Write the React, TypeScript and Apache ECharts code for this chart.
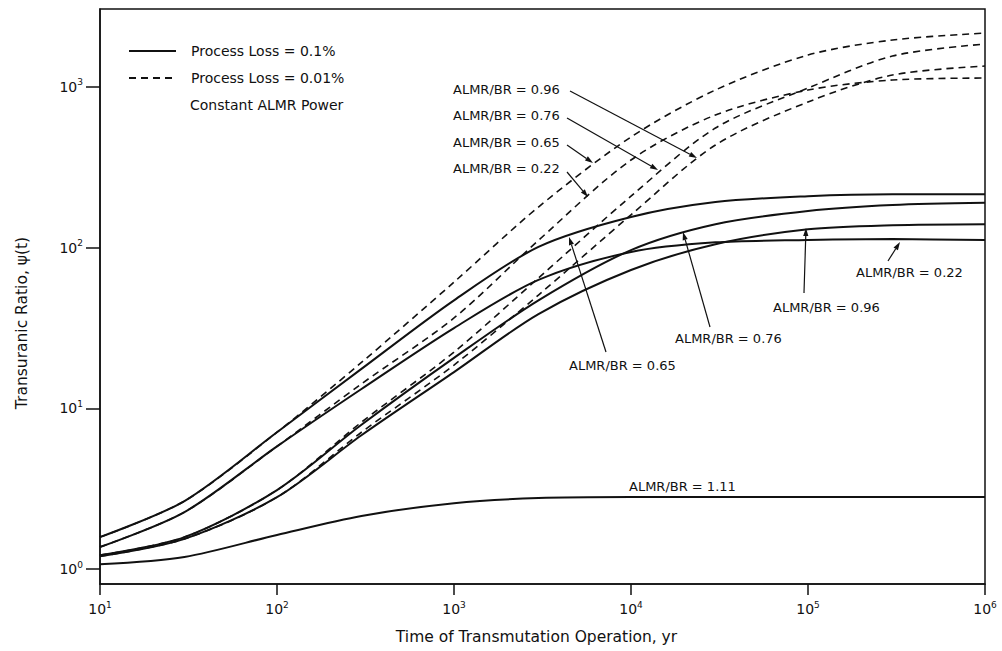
import React, { useEffect, useRef } from 'react';
import * as echarts from 'echarts';

// Time of transmutation operation, yr
const years = [10, 30, 100, 300, 1000, 3000, 10000, 30000, 100000, 300000, 1000000];

// Process Loss = 0.1% (solid curves)
const solid065 = [1.58, 2.65, 7.1, 17.6, 47, 101, 155, 192, 209, 215, 215];
const solid022 = [1.37, 2.26, 5.8, 13.2, 31.6, 63, 94, 108, 111.5, 113, 111.5];
const solid076 = [1.22, 1.58, 3.1, 7.9, 20.6, 47, 96.6, 140, 169, 184, 190];
const solid096 = [1.2, 1.54, 2.8, 6.8, 16.8, 38.6, 72.6, 105, 130, 138, 140];
const solid111 = [1.07, 1.19, 1.63, 2.14, 2.57, 2.77, 2.81, 2.81, 2.81, 2.81, 2.81];

// Process Loss = 0.01% (dashed curves)
const dashed065 = [1.58, 2.65, 7.1, 19.3, 61, 179, 488, 957, 1579, 1959, 2163];
const dashed022 = [1.37, 2.26, 5.8, 14.2, 36.5, 111, 351, 669, 957, 1104, 1136];
const dashed076 = [1.22, 1.58, 3.1, 8.2, 22.4, 64.7, 209, 555, 984, 1557, 1849];
const dashed096 = [1.2, 1.54, 2.8, 7.1, 18.6, 50.7, 160, 435, 806, 1186, 1349];

const xTicks = [10, 100, 1000, 10000, 100000, 1000000];
const yTicks = [1, 10, 100, 1000];

const SOLID = 'Process Loss = 0.1%';
const DASHED = 'Process Loss = 0.01%';
const FONT = '"DejaVu Sans", "Liberation Sans", Arial, sans-serif';
const INK = '#111';

function lineSeries(id: string, name: string, values: number[], dashed: boolean) {
  return {
    type: 'line',
    id,
    name,
    data: years.map((t, i) => [t, values[i]]),
    symbol: 'none',
    showSymbol: false,
    smooth: 0.3,
    lineStyle: { color: INK, width: dashed ? 1.6 : 2, type: dashed ? [7, 5] : 'solid' },
    itemStyle: { color: INK },
    emphasis: { disabled: true },
  };
}

function arrow(x1: number, y1: number, x2: number, y2: number) {
  const dx = x2 - x1;
  const dy = y2 - y1;
  const L = Math.hypot(dx, dy);
  const ux = dx / L;
  const uy = dy / L;
  const hl = 8;
  const hw = 2.6;
  const bx = x2 - ux * hl;
  const by = y2 - uy * hl;
  return [
    { type: 'line', shape: { x1, y1, x2: bx, y2: by }, style: { stroke: INK, lineWidth: 1.2 }, silent: true },
    {
      type: 'polygon',
      shape: { points: [[x2, y2], [bx - uy * hw, by + ux * hw], [bx + uy * hw, by - ux * hw]] },
      style: { fill: INK },
      silent: true,
    },
  ];
}

function label(text: string, x: number, y: number, size = 13) {
  return {
    type: 'text',
    x,
    y,
    silent: true,
    style: { text, fontSize: size, fontFamily: FONT, fill: INK, align: 'left', verticalAlign: 'middle' },
  };
}

const supFormatter = (v: number) => `{b|10}{s|${Math.round(Math.log10(v))}}`;
const supRich = {
  b: { fontSize: 14, fontFamily: FONT, color: INK },
  s: { fontSize: 9, fontFamily: FONT, color: INK, padding: [0, 0, 9, 0] },
};

export default function App() {
  const ref = useRef<HTMLDivElement>(null);
  useEffect(() => {
    if (!ref.current) return;
    const chart = echarts.init(ref.current, null, { renderer: 'svg' });
    const option = {
      animation: false,
      backgroundColor: '#fff',
      textStyle: { fontFamily: FONT, color: INK },
      grid: {
        left: 100,
        right: 17,
        top: 9,
        bottom: 67,
        containLabel: false,
        outerBoundsMode: 'none',
        show: true,
        borderColor: INK,
        borderWidth: 1.5,
        backgroundColor: 'transparent',
      },
      legend: {
        orient: 'vertical',
        left: 128,
        top: 44,
        padding: 0,
        itemWidth: 47,
        itemHeight: 14,
        itemGap: 13,
        selectedMode: false,
        itemStyle: { opacity: 0 },
        data: [{ name: SOLID }, { name: DASHED }],
        textStyle: { fontSize: 14, fontFamily: FONT, color: INK, padding: [0, 0, 0, 10] },
      },
      xAxis: {
        type: 'log',
        logBase: 10,
        min: 10,
        max: 1000000,
        name: 'Time of Transmutation Operation, yr',
        nameLocation: 'middle',
        nameGap: 45,
        nameTextStyle: { fontSize: 15.5, fontFamily: FONT, color: INK, padding: [0, 12, 0, 0] },
        axisLine: { show: true, lineStyle: { color: INK, width: 1.5 } },
        axisTick: { show: true, customValues: xTicks, length: 11, lineStyle: { color: INK, width: 1.5 } },
        minorTick: { show: false },
        axisLabel: { customValues: xTicks, formatter: supFormatter, rich: supRich, margin: 16 },
        splitLine: { show: false },
      },
      yAxis: {
        type: 'log',
        logBase: 10,
        min: 0.807,
        max: 3055,
        axisLine: { show: true, lineStyle: { color: INK, width: 1.5 } },
        axisTick: { show: true, customValues: yTicks, length: 14, lineStyle: { color: INK, width: 1.5 } },
        minorTick: { show: false },
        axisLabel: { customValues: yTicks, formatter: supFormatter, rich: supRich, margin: 17 },
        splitLine: { show: false },
      },
      series: [
        lineSeries('s065', SOLID, solid065, false),
        lineSeries('s022', SOLID, solid022, false),
        lineSeries('s076', SOLID, solid076, false),
        lineSeries('s096', SOLID, solid096, false),
        lineSeries('s111', SOLID, solid111, false),
        lineSeries('d065', DASHED, dashed065, true),
        lineSeries('d022', DASHED, dashed022, true),
        lineSeries('d076', DASHED, dashed076, true),
        lineSeries('d096', DASHED, dashed096, true),
      ],
      graphic: [
        label('Constant ALMR Power', 190, 105, 14),
        {
          type: 'text',
          x: 22,
          y: 323,
          rotation: Math.PI / 2,
          silent: true,
          style: {
            text: 'Transuranic Ratio, ψ(t)',
            fontSize: 15.5,
            fontFamily: FONT,
            fill: INK,
            align: 'center',
            verticalAlign: 'middle',
          },
        },
        label('ALMR/BR = 0.96', 453, 89),
        label('ALMR/BR = 0.76', 453, 115),
        label('ALMR/BR = 0.65', 453, 142),
        label('ALMR/BR = 0.22', 453, 168),
        ...arrow(570, 91, 697, 158),
        ...arrow(567, 118, 658, 170),
        ...arrow(567, 145, 593, 163),
        ...arrow(567, 172, 588, 197),
        label('ALMR/BR = 0.65', 569, 365),
        ...arrow(606, 352, 569, 237),
        label('ALMR/BR = 0.76', 675, 338),
        ...arrow(710, 327, 683, 232),
        label('ALMR/BR = 0.96', 773, 307),
        ...arrow(804, 293, 806, 228),
        label('ALMR/BR = 0.22', 856, 272),
        ...arrow(888, 261, 900, 242),
        label('ALMR/BR = 1.11', 629, 486),
      ],
    };
    chart.setOption(option as any);
    return () => chart.dispose();
  }, []);
  return (
    <div
      ref={ref}
      style={{ position: 'absolute', left: 0, top: 0, width: 1002, height: 651, background: '#fff' }}
    />
  );
}
